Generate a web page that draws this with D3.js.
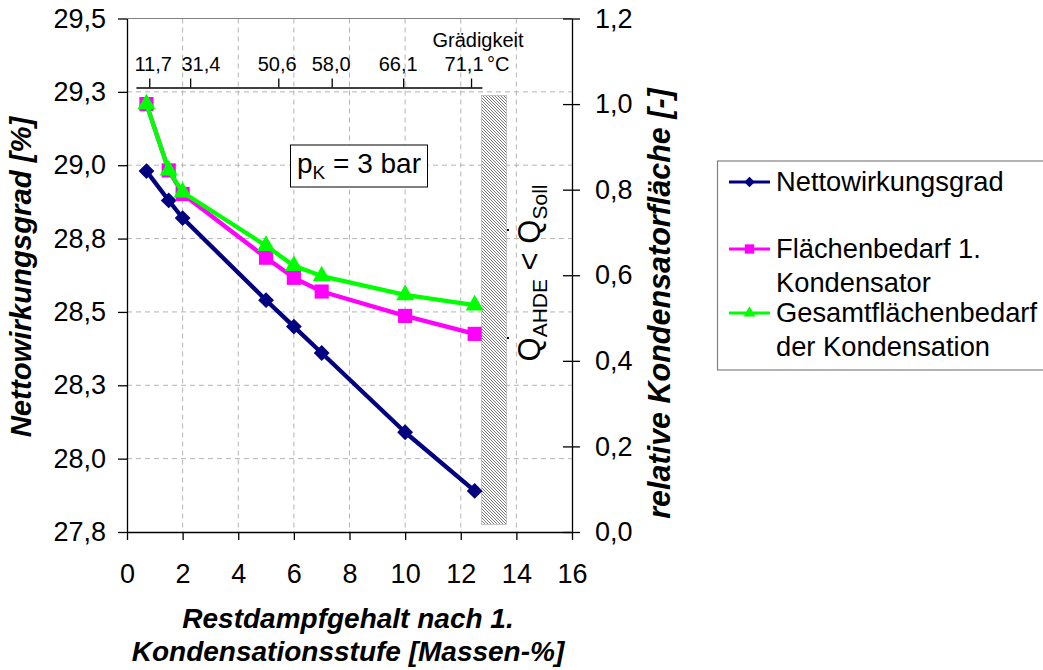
<!DOCTYPE html>
<html><head><meta charset="utf-8">
<script src="https://cdn.jsdelivr.net/npm/d3@7"></script>
<style>body{margin:0;background:#fff} svg{font-family:"Liberation Sans",Arial,sans-serif}</style>
</head><body><svg id="c" width="1043" height="670"></svg>
<script>
// ---- data ----
const restdampf = [0.7, 1.5, 2, 5, 6, 7, 10, 12.5];
const nettowirkungsgrad = [28.98, 28.88, 28.82, 28.54, 28.45, 28.36, 28.09, 27.89];
const flaechenbedarf1 = [1.0, 0.845, 0.79, 0.641, 0.594, 0.562, 0.505, 0.463];
const gesamtflaechenbedarf = [1.0, 0.845, 0.794, 0.669, 0.622, 0.598, 0.554, 0.530];
const xTicks = [0, 2, 4, 6, 8, 10, 12, 14, 16];
const yLeftTicks = [27.75, 28, 28.25, 28.5, 28.75, 29, 29.25, 29.5];
const yRightTicks = [0, 0.2, 0.4, 0.6, 0.8, 1.0, 1.2];
const gradLabels = ["11,7", "31,4", "50,6", "58,0", "66,1", "71,1"];
const gradAt = [0.8, 2.27, 5.44, 7.36, 9.93, 12.37];
const gradLabelAt = [0.94, 2.66, 5.4, 7.34, 9.75, 12.12];
const gradRange = [0.32, 12.76];
const hatchX = [12.75, 13.65];
const hatchY = [0.018, 1.02];
const seriesNames = ["Nettowirkungsgrad", ["Flächenbedarf 1.", "Kondensator"], ["Gesamtflächenbedarf", "der Kondensation"]];

// ---- layout ----
const L = 127, R = 572, T = 18.5, B = 532;
const svg = d3.select("#c");
const x = d3.scaleLinear([0, 16], [L, R]);
const yL = d3.scaleLinear([27.75, 29.5], [B, T]);
const yR = d3.scaleLinear([0, 1.2], [B, T]);
const comma = f => d => d3.format(f)(d).replace(".", ",");

// hatch pattern
const defs = svg.append("defs");
const pat = defs.append("pattern").attr("id", "hatch").attr("patternUnits", "userSpaceOnUse")
  .attr("width", 3).attr("height", 3);
pat.append("rect").attr("width", 3).attr("height", 3).attr("fill", "#fff");
pat.append("path").attr("d", "M0,0L3,3M-1,2L1,4M2,-1L4,1").attr("stroke", "#555").attr("stroke-width", 0.8);

// gridlines
const grid = svg.append("g").attr("stroke", "#b4b4b4").attr("stroke-dasharray", "5,4").attr("stroke-width", 1);
grid.selectAll(".h").data(yLeftTicks.slice(1, -1)).join("line")
  .attr("x1", L).attr("x2", R).attr("y1", d => yL(d)).attr("y2", d => yL(d));
grid.selectAll(".v").data(xTicks.slice(1, -1)).join("line")
  .attr("y1", T).attr("y2", B).attr("x1", d => x(d)).attr("x2", d => x(d));
svg.append("line").attr("x1", L).attr("x2", R).attr("y1", T).attr("y2", T).attr("stroke", "#808080");

// hatched region
svg.append("rect").attr("x", x(hatchX[0])).attr("width", x(hatchX[1]) - x(hatchX[0]))
  .attr("y", yR(hatchY[1])).attr("height", yR(hatchY[0]) - yR(hatchY[1]))
  .attr("fill", "url(#hatch)").attr("stroke", "#aaa").attr("stroke-width", 0.6);

// axes
const fs = "27px";
const ax = svg.append("g").attr("transform", `translate(0,${B})`)
  .call(d3.axisBottom(x).tickValues(xTicks).tickSize(8).tickSizeOuter(0).tickPadding(24).tickFormat(d3.format("d")));
const al = svg.append("g").attr("transform", `translate(${L},0)`)
  .call(d3.axisLeft(yL).tickValues(yLeftTicks).tickSize(9).tickSizeOuter(0).tickPadding(12).tickFormat(comma(".1f")));
const ar = svg.append("g").attr("transform", `translate(${R},0)`)
  .call(d3.axisRight(yR).tickValues(yRightTicks).tickSize(8).tickSizeOuter(0).tickPadding(15).tickFormat(comma(".1f")));
ar.selectAll(".tick line").attr("x1", -9);
[ax, al, ar].forEach(g => {
  g.selectAll("text").attr("font-size", fs).attr("fill", "#000").attr("font-family", "Liberation Sans, Arial, sans-serif");
  g.selectAll("line,path").attr("stroke", "#000").attr("stroke-width", 1.3);
});

// top Grädigkeit axis
const xg = d3.scaleLinear(gradRange, [x(gradRange[0]), x(gradRange[1])]);
const at = svg.append("g").attr("transform", "translate(0,87.5)")
  .call(d3.axisTop(xg).tickValues(gradAt).tickSize(9).tickSizeOuter(0).tickFormat(""));
at.selectAll("line,path").attr("stroke", "#000").attr("stroke-width", 1.3);
svg.append("g").selectAll("text").data(gradLabels).join("text")
  .attr("x", (d, i) => x(gradLabelAt[i])).attr("y", 71).attr("text-anchor", "middle")
  .attr("font-size", "20px").text(d => d);
svg.append("text").attr("x", 478).attr("y", 47).attr("text-anchor", "middle").attr("font-size", "20px").text("Grädigkeit");
svg.append("text").attr("x", 487).attr("y", 71).attr("font-size", "20px").text("°C");

// series
const series = [
  {vals: nettowirkungsgrad, y: yL, color: "#000080", sym: "diamond"},
  {vals: flaechenbedarf1, y: yR, color: "#ff00ff", sym: "square"},
  {vals: gesamtflaechenbedarf, y: yR, color: "#00ff00", sym: "triangle"}
];
function marker(g, sym, color, big) {
  const k = big ? 1 : 0.66;
  if (sym === "diamond") g.append("path").attr("d", d3.symbol(d3.symbolSquare, 125 * k * k)()).attr("transform", "rotate(45)").attr("fill", color);
  else if (sym === "square") g.append("path").attr("d", d3.symbol(d3.symbolSquare, 200 * k * k)()).attr("fill", color);
  else g.append("path").attr("d", d3.symbol(d3.symbolTriangle, 140 * k * k)()).attr("fill", color);
}
series.forEach(s => {
  const pts = restdampf.map((r, i) => [x(r), s.y(s.vals[i])]);
  svg.append("path").attr("d", d3.line()(pts)).attr("fill", "none").attr("stroke", s.color)
    .attr("stroke-width", 4.3).attr("stroke-linejoin", "round");
  pts.forEach(p => marker(svg.append("g").attr("transform", `translate(${p[0]},${p[1]})`), s.sym, s.color, true));
});

// annotation box pK
svg.append("rect").attr("x", 290.5).attr("y", 145).attr("width", 137).attr("height", 42)
  .attr("fill", "#fff").attr("stroke", "#000").attr("stroke-width", 1);
const pk = svg.append("text").attr("x", 297).attr("y", 173).attr("font-size", "28px");
pk.append("tspan").text("p");
pk.append("tspan").attr("font-size", "19px").attr("dy", 6).text("K");
pk.append("tspan").attr("dy", -6).text(" = 3 bar");

// Q annotation
const q = svg.append("text").attr("transform", "translate(540,273) rotate(-90)")
  .attr("text-anchor", "middle").attr("font-size", "31px");
q.append("tspan").text("Q");
q.append("tspan").attr("font-size", "21px").attr("dy", 7).text("AHDE");
q.append("tspan").attr("dy", -7).text(" < Q");
q.append("tspan").attr("font-size", "21px").attr("dy", 7).text("Soll");
svg.append("rect").attr("x", 507).attr("y", 229).attr("width", 2).attr("height", 2).attr("fill", "#000");
svg.append("rect").attr("x", 507).attr("y", 337).attr("width", 2).attr("height", 2).attr("fill", "#000");

// axis titles
const tStyle = (t, s) => t.attr("font-size", s).attr("font-weight", "bold").attr("font-style", "italic").attr("text-anchor", "middle");
svg.append("text").attr("transform", "translate(31,277) rotate(-90)").call(tStyle, "29.3px").text("Nettowirkungsgrad [%]");
svg.append("text").attr("transform", "translate(670,303.5) rotate(-90)").call(tStyle, "30.5px").text("relative Kondensatorfläche [-]");
svg.append("text").attr("x", 348).attr("y", 628).call(tStyle, "28px").text("Restdampfgehalt nach 1.");
svg.append("text").attr("x", 348).attr("y", 661).call(tStyle, "28px").text("Kondensationsstufe [Massen-%]");

// legend
svg.append("rect").attr("x", 717.5).attr("y", 161).attr("width", 400).attr("height", 209)
  .attr("fill", "#fff").attr("stroke", "#808080").attr("stroke-width", 1.2);
const legY = [182, 249, 313];
series.forEach((s, i) => {
  const g = svg.append("g").attr("transform", `translate(0,${legY[i]})`);
  g.append("line").attr("x1", 729).attr("x2", 770).attr("stroke", s.color).attr("stroke-width", 3);
  marker(g.append("g").attr("transform", "translate(749.5,0)"), s.sym, s.color, false);
  const names = [].concat(seriesNames[i]);
  const t = g.append("text").attr("x", 776).attr("y", 9).attr("font-size", "27.3px");
  names.forEach((n, j) => t.append("tspan").attr("x", 776).attr("dy", j ? 33.5 : 0).text(n));
});
</script></body></html>
